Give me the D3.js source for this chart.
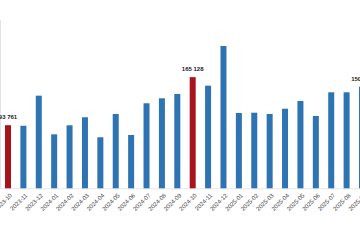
<!DOCTYPE html>
<html>
<head>
<meta charset="utf-8">
<script src="https://cdn.jsdelivr.net/npm/d3@7"></script>
<style>
  html, body { margin: 0; padding: 0; background: #fff; }
  svg { display: block; }
</style>
</head>
<body>
<div id="container"></div>
<script>
const months = ['2023-10', '2023-11', '2023-12', '2024-01', '2024-02', '2024-03', '2024-04', '2024-05',
    '2024-06', '2024-07', '2024-08', '2024-09', '2024-10', '2024-11', '2024-12', '2025-01',
    '2025-02', '2025-03', '2025-04', '2025-05', '2025-06', '2025-07', '2025-08', '2025-09'];
const values = [93761, 92900, 137600, 80200, 93600, 105500, 75800, 110400,
    79200, 126300, 133700, 140100, 165128, 152400, 211400, 111900,
    112300, 110400, 118200, 129700, 107400, 142600, 142600, 150900];
const highlighted = ['2023-10', '2024-10'];
const labelled = ['2023-10', '2024-10', '2025-09'];
const yDomain = [0, 250000];

window.addEventListener('load', () => {
    const width = 360, height = 250;
    const svg = d3.select('#container')
        .append('svg')
        .attr('width', width)
        .attr('height', height);

    const data = months.map((m, i) => ({ month: m, value: values[i] }));
    const fmt = v => d3.format(',')(v).replace(/,/g, ' ');

    const x = d3.scaleBand()
        .domain(months)
        .range([0.3, 369.7])
        .paddingInner(0.61)
        .paddingOuter(0.305);
    const y = d3.scaleLinear()
        .domain(yDomain)
        .range([188.3, 20]);

    // faint axis lines
    svg.append('line')
        .attr('x1', 0.5).attr('x2', 0.5)
        .attr('y1', y(yDomain[1])).attr('y2', y(0))
        .attr('stroke', '#e3e3e3');
    svg.append('line')
        .attr('x1', 0).attr('x2', width)
        .attr('y1', y(0) + 0.5).attr('y2', y(0) + 0.5)
        .attr('stroke', '#e6e6e6');

    svg.selectAll('rect.bar')
        .data(data)
        .enter()
        .append('rect')
        .attr('class', 'bar')
        .attr('x', d => x(d.month))
        .attr('width', x.bandwidth())
        .attr('y', d => y(d.value))
        .attr('height', d => y(0) - y(d.value))
        .attr('fill', d => highlighted.includes(d.month) ? '#a8141d' : '#2e74b3');

    svg.selectAll('text.val')
        .data(data.filter(d => labelled.includes(d.month)))
        .enter()
        .append('text')
        .attr('class', 'val')
        .attr('x', d => x(d.month) + x.bandwidth() / 2)
        .attr('y', d => y(d.value) - 6)
        .attr('text-anchor', 'middle')
        .attr('font-family', 'Liberation Sans, Arial, sans-serif')
        .attr('font-weight', 'bold')
        .attr('font-size', 6)
        .attr('fill', '#222')
        .text(d => fmt(d.value));

    svg.selectAll('text.tick')
        .data(months)
        .enter()
        .append('text')
        .attr('class', 'tick')
        .attr('transform', d => `translate(${x(d) + x.bandwidth() / 2 + 3},${y(0) + 6}) rotate(-45)`)
        .attr('text-anchor', 'end')
        .attr('dy', '0.35em')
        .attr('font-family', 'Liberation Sans, Arial, sans-serif')
        .attr('font-size', 6)
        .attr('fill', '#444')
        .text(d => d);
});
</script>
</body>
</html>
